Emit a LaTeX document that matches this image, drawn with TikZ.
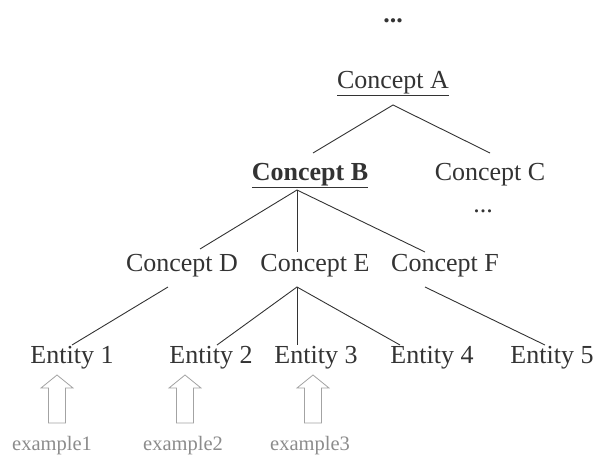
\documentclass[tikz,border=0pt]{standalone}
\usepackage{fontspec}
\setmainfont{Liberation Serif}
\usetikzlibrary{calc}
\definecolor{ink}{HTML}{333333}
\definecolor{soft}{HTML}{8C8C8C}
\begin{document}
\begin{tikzpicture}[x=1pt,y=-1pt,
  concept/.style={text=ink,font=\fontsize{26}{30}\selectfont,inner sep=0pt,anchor=base},
  entity/.style={concept},
  example/.style={text=soft,font=\fontsize{20.5}{24}\selectfont,inner sep=0pt,anchor=base},
  edge/.style={draw=ink,line width=0.9pt},
  uparrow/.style={draw=soft!80,line width=0.8pt,fill=white}]
\useasboundingbox (0,0) rectangle (597,455);

% concept hierarchy
\node[concept] (top) at (393,23) {\textbf{...}};
\node[concept] (A) at (393,88) {\underline{Concept A}};
\node[concept] (B) at (310,180) {\underline{\textbf{Concept B}}};
\node[concept] (C) at (490,180) {Concept C};
\node[concept] (Cdots) at (483,212) {...};
\node[concept] (D) at (182,271) {Concept D};
\node[concept] (E) at (315,271) {Concept E};
\node[concept] (F) at (445,271) {Concept F};

% entities
\node[entity] (e1) at (72,363) {Entity 1};
\node[entity] (e2) at (211,363) {Entity 2};
\node[entity] (e3) at (316,363) {Entity 3};
\node[entity] (e4) at (432,363) {Entity 4};
\node[entity] (e5) at (552,363) {Entity 5};

% examples
\node[example] (x1) at (52,450) {example1};
\node[example] (x2) at (183,450) {example2};
\node[example] (x3) at (310,450) {example3};

% branch points
\coordinate (Aj) at (393,105);
\coordinate (Bj) at (297,190);
\coordinate (Ej) at (297,287);

\draw[edge] (313,153) -- (Aj) -- (490,153);
\draw[edge] (200,249) -- (Bj) -- (425,252);
\draw[edge] (Bj) -- (297,252);
\draw[edge] (168,287) -- (72,345);
\draw[edge] (217,345) -- (Ej) -- (400,345);
\draw[edge] (Ej) -- (297,345);
\draw[edge] (425,287) -- (545,345);

% hollow block arrows from examples up to entities
\foreach \n/\cx in {1/57,2/185,3/313}{
  \draw[uparrow] (\cx-8.5,423) -- (\cx-8.5,388) -- (\cx-16,388) -- (\cx,375)
    -- (\cx+16,388) -- (\cx+8.5,388) -- (\cx+8.5,423) -- cycle;
}
\end{tikzpicture}
\end{document}
